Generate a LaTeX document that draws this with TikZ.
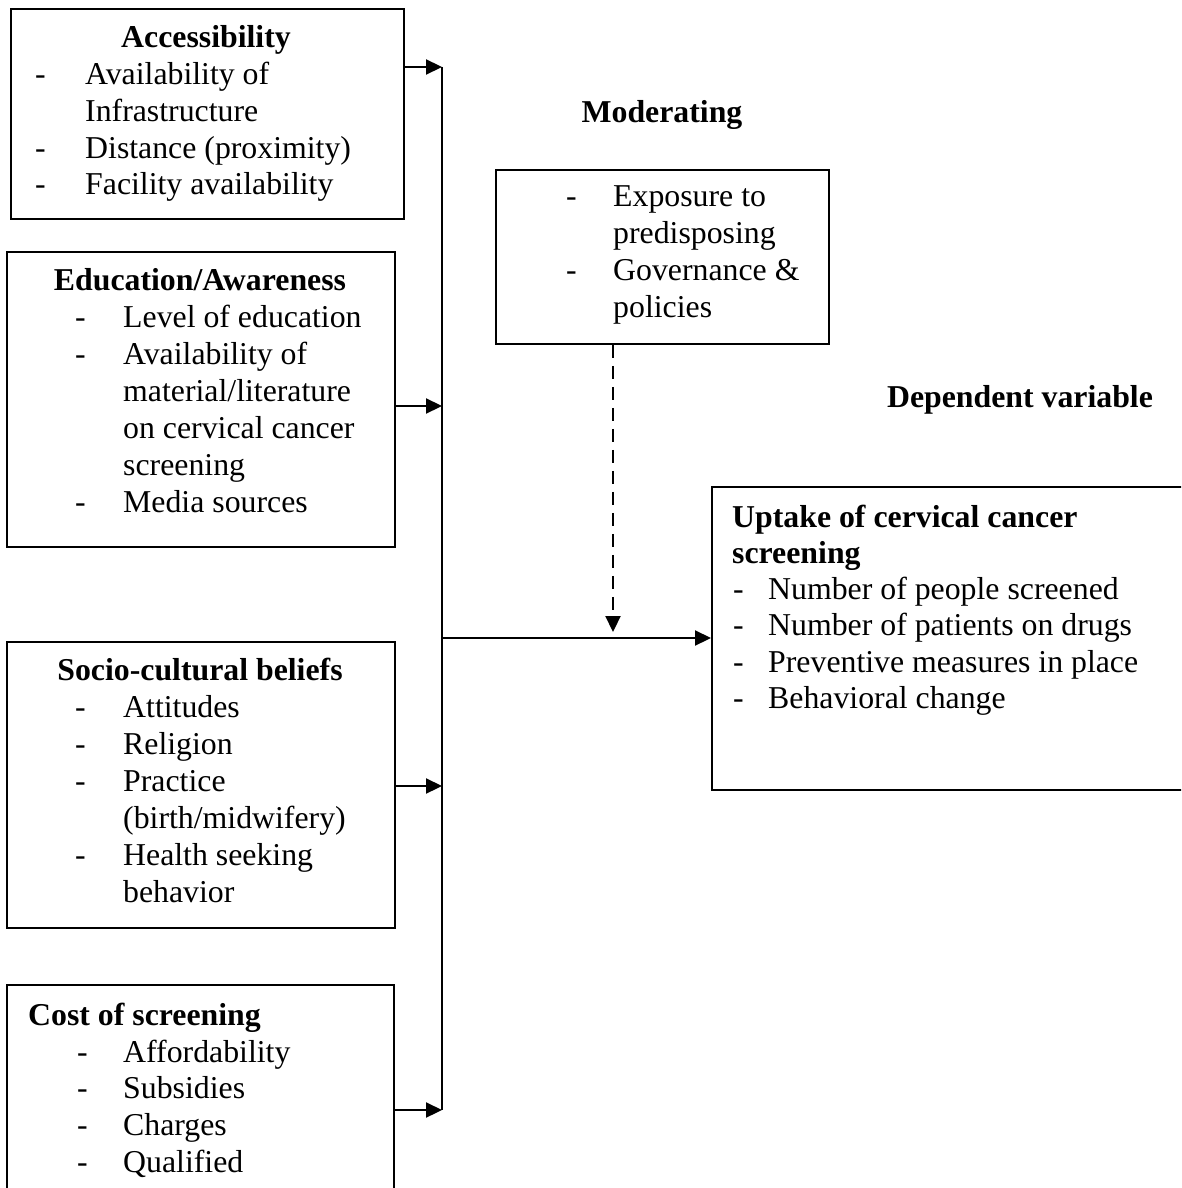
\documentclass[tikz,border=0pt]{standalone}
\usepackage{fontspec}
\setmainfont{Liberation Serif}
\usetikzlibrary{arrows.meta}
\begin{document}
\begin{tikzpicture}[x=1pt,y=-1pt,
  box/.style={draw, line width=1.8pt, inner sep=0pt, anchor=north west},
  txt/.style={inner sep=0pt, anchor=base west, font=\fontsize{31.8}{36.8}\selectfont},
  ctxt/.style={txt, anchor=base},
  conn/.style={line width=2.2pt},
  arr/.style={conn, -{Triangle[length=16pt,width=15pt]}}]
\useasboundingbox (0,0) rectangle (1181,1188);
\clip (0,0) rectangle (1181,1188);

% boxes
\node[box, minimum width=393pt, minimum height=210pt] (acc) at (10,8) {};
\node[box, minimum width=388pt, minimum height=295pt] (edu) at (6,251) {};
\node[box, minimum width=388pt, minimum height=286pt] (soc) at (6,641) {};
\node[box, minimum width=387pt, minimum height=230pt] (cost) at (6,984) {};
\node[box, minimum width=333pt, minimum height=174pt] (mod) at (495,169) {};
\node[box, minimum width=490pt, minimum height=303pt] (upt) at (711,486) {};

% Accessibility
\node[ctxt] (acc-h) at (206,48) {\bfseries Accessibility};
\node[txt] (acc-d1) at (35,85) {-};
\node[txt] (acc-1) at (85,85) {Availability of};
\node[txt] (acc-2) at (85,121.5) {Infrastructure};
\node[txt] (acc-d3) at (35,158) {-};
\node[txt] (acc-3) at (85,158) {Distance (proximity)};
\node[txt] (acc-d4) at (35,194.5) {-};
\node[txt] (acc-4) at (85,194.5) {Facility availability};

% Education
\node[ctxt] (edu-h) at (200,290) {\bfseries Education/Awareness};
\node[txt] (edu-d1) at (75,327) {-};
\node[txt] (edu-1) at (123,327) {Level of education};
\node[txt] (edu-d2) at (75,364) {-};
\node[txt] (edu-2) at (123,364) {Availability of};
\node[txt] (edu-3) at (123,401) {material/literature};
\node[txt] (edu-4) at (123,438) {on cervical cancer};
\node[txt] (edu-5) at (123,475) {screening};
\node[txt] (edu-d6) at (75,512) {-};
\node[txt] (edu-6) at (123,512) {Media sources};

% Socio-cultural
\node[ctxt] (soc-h) at (200,680) {\bfseries Socio-cultural beliefs};
\node[txt] (soc-d1) at (75,717) {-};
\node[txt] (soc-1) at (123,717) {Attitudes};
\node[txt] (soc-d2) at (75,754) {-};
\node[txt] (soc-2) at (123,754) {Religion};
\node[txt] (soc-d3) at (75,791) {-};
\node[txt] (soc-3) at (123,791) {Practice};
\node[txt] (soc-4) at (123,828) {(birth/midwifery)};
\node[txt] (soc-d5) at (75,865) {-};
\node[txt] (soc-5) at (123,865) {Health seeking};
\node[txt] (soc-6) at (123,902) {behavior};

% Cost
\node[txt] (cost-h) at (28,1025) {\bfseries Cost of screening};
\node[txt] (cost-d1) at (77,1062) {-};
\node[txt] (cost-1) at (123,1062) {Affordability};
\node[txt] (cost-d2) at (77,1098.5) {-};
\node[txt] (cost-2) at (123,1098.5) {Subsidies};
\node[txt] (cost-d3) at (77,1135) {-};
\node[txt] (cost-3) at (123,1135) {Charges};
\node[txt] (cost-d4) at (77,1172) {-};
\node[txt] (cost-4) at (123,1172) {Qualified};

% Moderating
\node[ctxt] (mod-lab) at (662,123) {\bfseries Moderating};
\node[txt] (mod-d1) at (566,206) {-};
\node[txt] (mod-1) at (613,206) {Exposure to};
\node[txt] (mod-2) at (613,243) {predisposing};
\node[txt] (mod-d3) at (566,280) {-};
\node[txt] (mod-3) at (613,280) {Governance \&};
\node[txt] (mod-4) at (613,317) {policies};

% Dependent
\node[ctxt] (dep-lab) at (1020,407) {\bfseries Dependent variable};
\node[txt] (upt-h1) at (732,527) {\bfseries Uptake of cervical cancer};
\node[txt] (upt-h2) at (732,563) {\bfseries screening};
\node[txt] (upt-d1) at (733,599) {-};
\node[txt] (upt-1) at (768,599) {Number of people screened};
\node[txt] (upt-d2) at (733,635.5) {-};
\node[txt] (upt-2) at (768,635.5) {Number of patients on drugs};
\node[txt] (upt-d3) at (733,672) {-};
\node[txt] (upt-3) at (768,672) {Preventive measures in place};
\node[txt] (upt-d4) at (733,708.5) {-};
\node[txt] (upt-4) at (768,708.5) {Behavioral change};

% connectors
\coordinate (bTop) at (442,67);
\coordinate (bEdu) at (442,406);
\coordinate (bMid) at (442,638);
\coordinate (bSoc) at (442,786);
\coordinate (bBot) at (442,1110);
\coordinate (dEnd) at (613,632);

\draw[conn] (bTop) -- (bBot);
\draw[arr] (acc.east |- bTop) -- (bTop);
\draw[arr] (edu.east |- bEdu) -- (bEdu);
\draw[arr] (soc.east |- bSoc) -- (bSoc);
\draw[arr] (cost.east |- bBot) -- (bBot);
\draw[arr] (bMid) -- (upt.west |- bMid);
\draw[arr, dash pattern=on 13pt off 8pt] (mod.south -| dEnd) -- (dEnd);
\end{tikzpicture}
\end{document}
